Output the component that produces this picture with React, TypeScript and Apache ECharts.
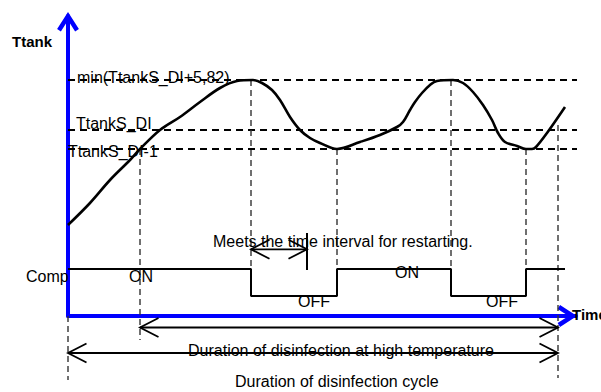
import React, { useEffect, useRef } from "react";
import * as echarts from "echarts";

// ---------- data (time units along x, temperature units along y) ----------
const timeMax = 508;
const tempMax = 300;

// Temperature threshold levels
const levelNames = ["min(TtankS_DI+5,82)", "TtankS_DI", "TtankS_DI-1"];
const levelValues = [236, 186, 167];
const levelLineEnd = 514;

// Tank temperature curve
const tankTime = [
  0, 22, 42, 62, 72, 92, 112, 132, 152, 169, 185, 194, 204, 212, 222, 232, 242,
  252, 269, 292, 312, 329, 335, 342, 347, 354, 362, 369, 385, 395, 405, 415,
  424, 430, 437, 449, 458, 464, 468, 479, 497,
];
const tankTemp = [
  91, 113, 136, 156, 167, 186, 199, 214, 228, 235, 236, 233, 226, 216, 199, 186,
  178, 173, 167, 174, 181, 189, 194, 206, 214, 223, 231, 235, 236, 233, 224,
  211, 196, 183, 174, 170, 167, 167, 169, 183, 209,
];

// Compressor state (ON / OFF levels) and switching times
const compOn = 47;
const compOff = 20;
const compSwitchTimes = [0, 183, 269, 383, 458, 497];
const compSwitchStates = [compOn, compOff, compOn, compOff, compOn, compOn];

// Event markers (vertical dashed guides)
const eventTimes = [0, 72, 183, 269, 383, 458, 490];
const eventFrom = [0, 167, 236, 167, 236, 167, 191];
const eventTo = [-64, -24, 47, 47, 47, 47, -62];

// Duration spans (double arrows)
const spanStart = [72, 0, 183];
const spanEnd = [490, 490, 239];
const spanLevel = [-11.5, -37, 66.7];

// Restart interval end marker
const restartTime = 239;
const restartFrom = 83;
const restartTo = 46;

// ---------- styling ----------
const FONT = "'Liberation Sans', Arial, Helvetica, sans-serif";
const BLUE = "#0000ff";
const CHEVRON =
  "path://M11,0L21.89,16.94L18.11,19.38L11,8.32L3.89,19.38L0.11,16.94Z";

const textItems = [
  { text: "Ttank", x: 12, y: 41, bold: true, size: 15 },
  { text: levelNames[0], x: 77, y: 77 },
  { text: levelNames[1], x: 76, y: 123 },
  { text: levelNames[2], x: 68, y: 151 },
  { text: "Comp", x: 26, y: 276 },
  { text: "ON", x: 129, y: 276 },
  { text: "OFF", x: 298, y: 301 },
  { text: "ON", x: 395, y: 272.5 },
  { text: "OFF", x: 486, y: 301.5 },
  { text: "Meets the time interval for restarting.", x: 213, y: 241 },
  { text: "Time", x: 572, y: 314.5, bold: true, size: 15 },
  { text: "Duration of disinfection at high temperature", x: 188, y: 350.5 },
  { text: "Duration of disinfection cycle", x: 235, y: 381 },
];

export default function App() {
  const ref = useRef<HTMLDivElement>(null);

  useEffect(() => {
    if (!ref.current) return;
    const chart = echarts.init(ref.current, undefined, { renderer: "svg" });

    const levelSeries = levelValues.map((v) => ({
      type: "line",
      data: [
        [0, v],
        [levelLineEnd, v],
      ],
      symbol: "none",
      clip: false,
      silent: true,
      lineStyle: { color: "#000", width: 2, type: [7, 5] },
      z: 2,
    }));

    const eventSeries = eventTimes.map((t, i) => ({
      type: "line",
      data: [
        [t, eventFrom[i]],
        [t, eventTo[i]],
      ],
      symbol: "none",
      clip: false,
      silent: true,
      lineStyle: { color: "#333", width: 1.4, type: [6, 4] },
      z: 2,
    }));

    const option: any = {
      animation: false,
      backgroundColor: "#fff",
      grid: {
        left: 68,
        top: 16,
        width: timeMax,
        height: tempMax,
        containLabel: false,
        outerBoundsMode: "none",
      },
      xAxis: {
        type: "value",
        min: 0,
        max: timeMax,
        axisLine: {
          show: true,
          onZero: true,
          lineStyle: { color: BLUE, width: 4 },
          symbol: ["none", CHEVRON],
          symbolSize: [22, 19.4],
          symbolOffset: [0, -8.7],
        },
        axisTick: { show: false },
        axisLabel: { show: false },
        splitLine: { show: false },
      },
      yAxis: {
        type: "value",
        min: 0,
        max: tempMax,
        axisLine: {
          show: true,
          onZero: true,
          lineStyle: { color: BLUE, width: 4 },
          symbol: ["none", CHEVRON],
          symbolSize: [22, 19.4],
          symbolOffset: [0, -5.7],
        },
        axisTick: { show: false },
        axisLabel: { show: false },
        splitLine: { show: false },
      },
      series: [
        ...levelSeries,
        ...eventSeries,
        {
          type: "line",
          data: tankTime.map((t, i) => [t, tankTemp[i]]),
          smooth: 0.35,
          symbol: "none",
          clip: false,
          silent: true,
          lineStyle: { color: "#000", width: 2.6 },
          z: 4,
        },
        {
          type: "line",
          data: compSwitchTimes.map((t, i) => [t, compSwitchStates[i]]),
          step: "end",
          symbol: "none",
          clip: false,
          silent: true,
          lineStyle: { color: "#000", width: 2 },
          z: 4,
        },
        {
          type: "line",
          data: [
            [restartTime, restartFrom],
            [restartTime, restartTo],
          ],
          symbol: "none",
          clip: false,
          silent: true,
          lineStyle: { color: "#000", width: 2 },
          z: 4,
        },
        {
          type: "custom",
          coordinateSystem: "cartesian2d",
          clip: false,
          silent: true,
          z: 4,
          data: spanStart.map((s, i) => [s, spanEnd[i], spanLevel[i]]),
          encode: { x: [0, 1], y: 2 },
          renderItem: (_params: any, api: any) => {
            const a = api.coord([api.value(0), api.value(2)]);
            const b = api.coord([api.value(1), api.value(2)]);
            const hx = 18.5;
            const hy = 9.5;
            const style = { stroke: "#000", lineWidth: 1.8, fill: "none" };
            return {
              type: "group",
              children: [
                {
                  type: "line",
                  shape: { x1: a[0], y1: a[1], x2: b[0], y2: b[1] },
                  style,
                },
                {
                  type: "polyline",
                  shape: {
                    points: [
                      [a[0] + hx, a[1] - hy],
                      [a[0], a[1]],
                      [a[0] + hx, a[1] + hy],
                    ],
                  },
                  style,
                },
                {
                  type: "polyline",
                  shape: {
                    points: [
                      [b[0] - hx, b[1] - hy],
                      [b[0], b[1]],
                      [b[0] - hx, b[1] + hy],
                    ],
                  },
                  style,
                },
              ],
            };
          },
        },
      ],
      graphic: textItems.map((t) => ({
        type: "text",
        x: t.x,
        y: t.y,
        z: 10,
        silent: true,
        style: {
          text: t.text,
          fontSize: t.size || 16,
          fontWeight: t.bold ? "bold" : "normal",
          fontFamily: FONT,
          fill: "#000",
          align: "left",
          verticalAlign: "middle",
        },
      })),
    };

    chart.setOption(option);
    return () => chart.dispose();
  }, []);

  return (
    <div
      ref={ref}
      style={{
        position: "fixed",
        left: 0,
        top: 0,
        width: 601,
        height: 392,
        background: "#fff",
      }}
    />
  );
}
